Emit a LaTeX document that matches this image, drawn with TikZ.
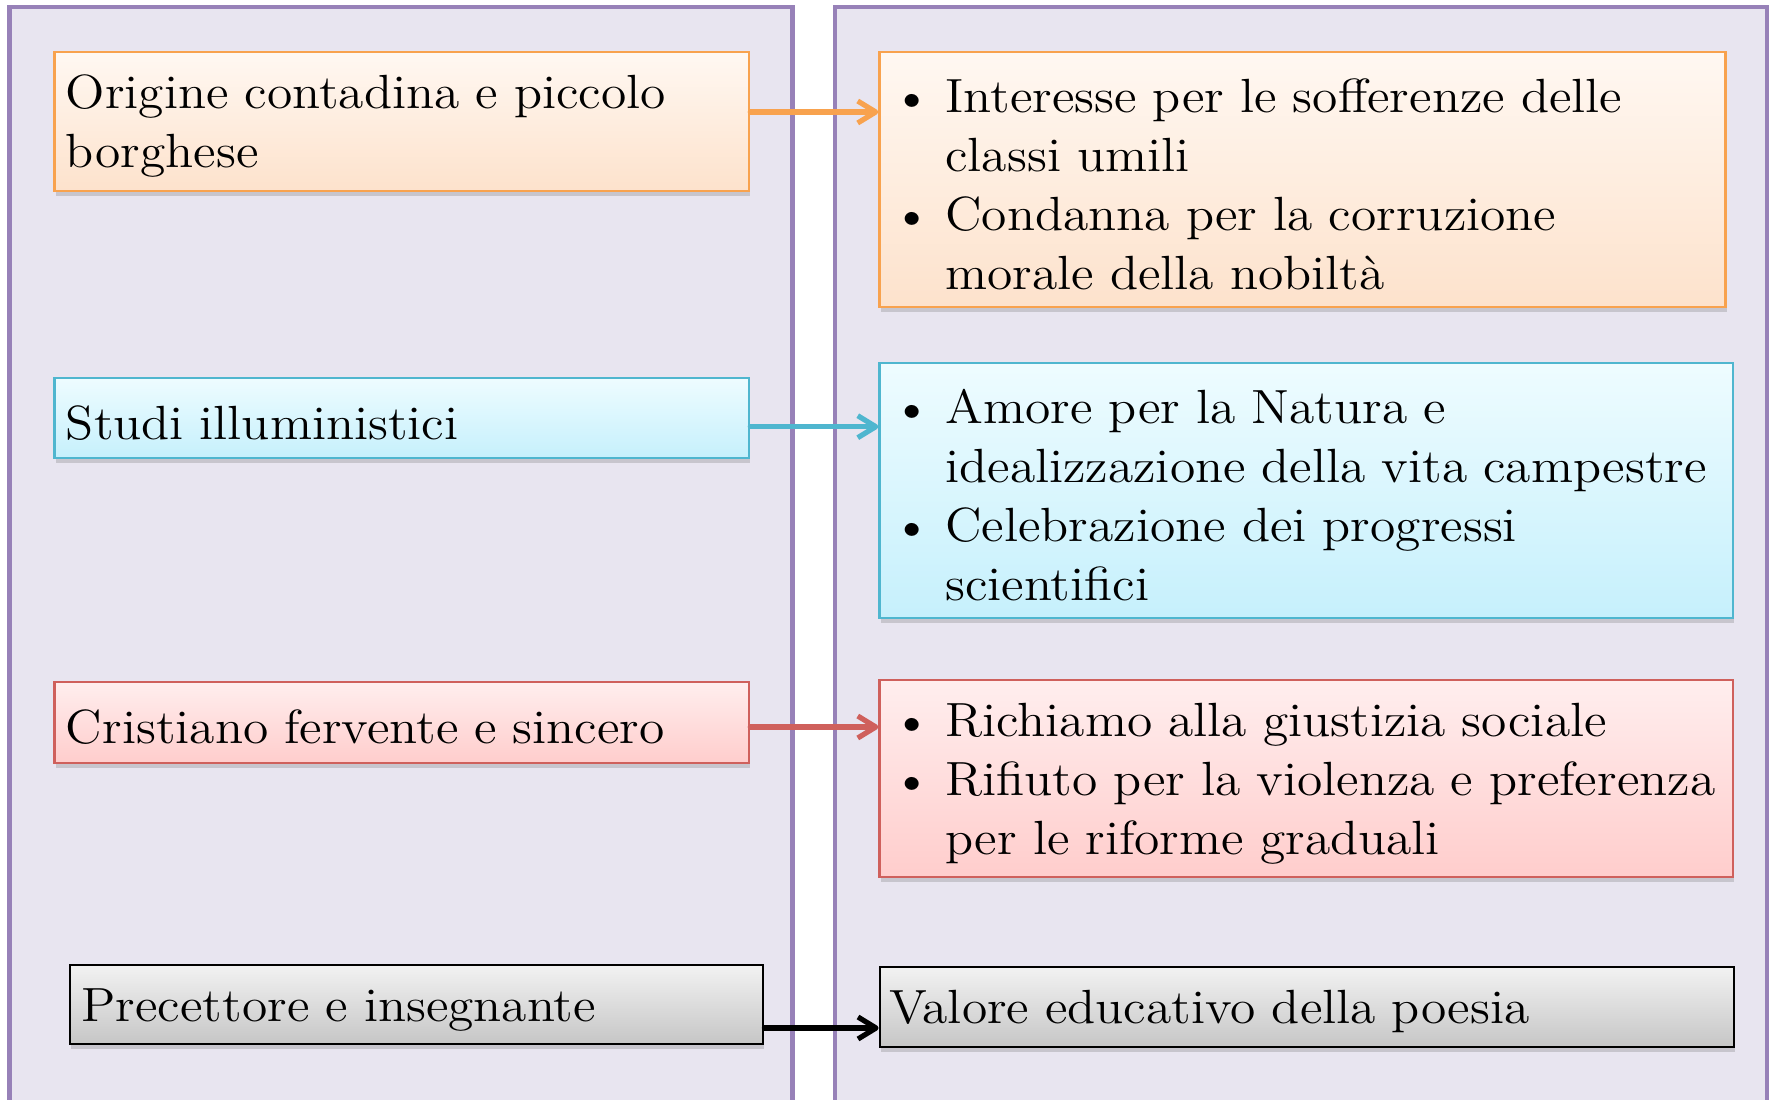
\documentclass[tikz,border=0pt]{standalone}
\usepackage{fontspec}
\setmainfont{Latin Modern Roman}[FakeStretch=1.075]
\usepackage{tikz}
\usetikzlibrary{arrows.meta,shadows}
\definecolor{pfill}{HTML}{E8E5F0}
\definecolor{pline}{HTML}{9781B8}
\definecolor{oline}{HTML}{F8A24E}
\definecolor{otop}{HTML}{FFF8F2}
\definecolor{obot}{HTML}{FDE2CC}
\definecolor{cline}{HTML}{4FB6CF}
\definecolor{ctop}{HTML}{EEFCFF}
\definecolor{cbot}{HTML}{C6F0FC}
\definecolor{rline}{HTML}{CF605C}
\definecolor{rtop}{HTML}{FFEEEE}
\definecolor{rbot}{HTML}{FFCDCC}
\definecolor{kline}{HTML}{000000}
\definecolor{ktop}{HTML}{F2F2F2}
\definecolor{kbot}{HTML}{C6C6C6}
\newcommand{\blt}{\makebox[13.6pt][l]{\hspace{0.3pt}\textbullet}}
\newcommand{\ind}{\hspace*{13.6pt}}
\tikzset{
	panel/.style={draw=pline,fill=pfill,line width=1.2pt},
	box/.style 2 args={draw=#1line,line width=0.6pt,top color=#2top,bottom color=#2bot,
		inner xsep=2.875pt,inner ysep=0pt,align=left,
		font=\fontsize{12}{14.75}\selectfont,execute at begin node={\rule{0pt}{10.8pt}},
		drop shadow={shadow xshift=0.3pt,shadow yshift=-1.2pt,opacity=0.25,fill=black!60}},
	arr/.style={draw=#1,line width=1.3pt,line cap=round,-{Straight Barb[length=4.5pt,width=5.5pt,line join=round]}}
}
\begin{document}
\begin{tikzpicture}[x=0.25pt,y=-0.25pt]
	\path[use as bounding box] (0,0) rectangle (1775,1100);
	\clip (0,0) rectangle (1775,1100);
	\draw[panel] (9.5,7) rectangle (792.5,1130);
	\draw[panel] (835,7) rectangle (1767,1130);

	\node[box={o}{o},text width=167.9pt,minimum height=34.75pt] (orig) at (401.75,121.5) {Origine contadina e piccolo\\borghese};
	\node[box={o}{o},text width=205.75pt,minimum height=63.75pt] (inter) at (1302.5,179.5)
		{\blt\mbox{Interesse per le sofferenze delle}\\\ind\mbox{classi umili}\\\blt\mbox{Condanna per la corruzione}\\\ind\mbox{morale della nobilt\`a}};

	\node[box={c}{c},text width=167.9pt,minimum height=20pt] (studi) at (401.75,418) {Studi illuministici};
	\node[box={c}{c},text width=207.6pt,minimum height=63.75pt] (amore) at (1306.25,490.5)
		{\blt\mbox{Amore per la Natura e}\\\ind\mbox{idealizzazione della vita campestre}\\\blt\mbox{Celebrazione dei progressi}\\\ind\mbox{scientifici}};

	\node[box={r}{r},text width=167.9pt,minimum height=20.25pt] (crist) at (401.75,722.5) {Cristiano fervente e sincero};
	\node[box={r}{r},text width=207.6pt,minimum height=49.25pt] (rich) at (1306.25,778.5)
		{\blt\mbox{Richiamo alla giustizia sociale}\\\blt\mbox{Rifiuto per la violenza e preferenza}\\\ind\mbox{per le riforme graduali}};

	\node[box={k}{k},line width=0.7pt,text width=167.5pt,minimum height=19.75pt] (prec) at (416.5,1004.5) {Precettore e insegnante};
	\node[box={k}{k},line width=0.7pt,inner xsep=2.25pt,text width=209pt,minimum height=20pt] (val) at (1307,1007) {Valore educativo della poesia};

	\draw[arr=oline] (orig.east) ++(0,-9.5) coordinate (a1) -- (a1 -| inter.west);
	\draw[arr=cline] (studi.east) ++(0,8.7) coordinate (a2) -- (a2 -| amore.west);
	\draw[arr=rline] (crist.east) ++(0,4.5) coordinate (a3) -- (a3 -| rich.west);
	\draw[arr=black] (prec.east) ++(0,23.5) coordinate (a4) -- (a4 -| val.west);
\end{tikzpicture}
\end{document}
